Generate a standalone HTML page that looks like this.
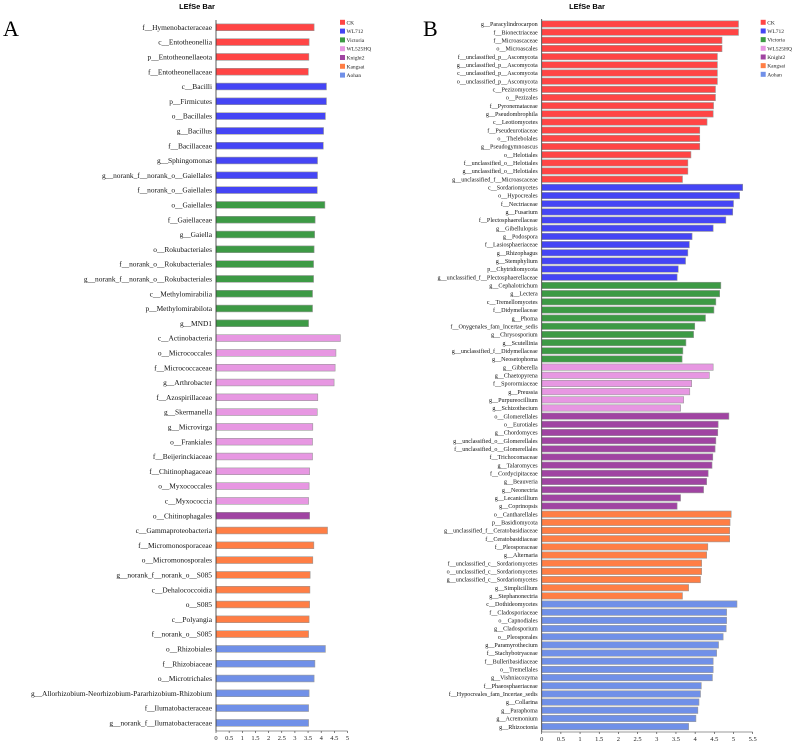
<!DOCTYPE html>
<html><head><meta charset="utf-8"><style>
html,body{margin:0;padding:0;background:#fff;}
svg{display:block;font-family:"Liberation Serif",serif;}
</style></head><body>
<svg id="c" width="798" height="746" viewBox="0 0 798 746">
<text x="197" y="9" font-family="Liberation Sans" font-weight="bold" font-size="7.5" text-anchor="middle">LEfSe Bar</text>
<text x="587" y="9" font-family="Liberation Sans" font-weight="bold" font-size="7.5" text-anchor="middle">LEfSe Bar</text>
<text x="3" y="36" font-size="22">A</text>
<text x="423" y="36" font-size="22">B</text>
</svg>
<script>
const groupNames=["CK","WL712","Victoria","WL525HQ","Knight2","Kangsai","Aohan"];
const groupColors=["#ff4545","#4545f5","#3d9a45","#e797e2","#a044a2","#ff7e45","#7090e8"];

const catsA=["f__Hymenobacteraceae","c__Entotheonellia","p__Entotheonellaeota","f__Entotheonellaceae","c__Bacilli","p__Firmicutes","o__Bacillales","g__Bacillus","f__Bacillaceae","g__Sphingomonas","g__norank_f__norank_o__Gaiellales","f__norank_o__Gaiellales","o__Gaiellales","f__Gaiellaceae","g__Gaiella","o__Rokubacteriales","f__norank_o__Rokubacteriales","g__norank_f__norank_o__Rokubacteriales","c__Methylomirabilia","p__Methylomirabilota","g__MND1","c__Actinobacteria","o__Micrococcales","f__Micrococcaceae","g__Arthrobacter","f__Azospirillaceae","g__Skermanella","g__Microvirga","o__Frankiales","f__Beijerinckiaceae","f__Chitinophagaceae","o__Myxococcales","c__Myxococcia","o__Chitinophagales","c__Gammaproteobacteria","f__Micromonosporaceae","o__Micromonosporales","g__norank_f__norank_o__S085","c__Dehalococcoidia","o__S085","c__Polyangia","f__norank_o__S085","o__Rhizobiales","f__Rhizobiaceae","o__Microtrichales","g__Allorhizobium-Neorhizobium-Pararhizobium-Rhizobium","f__Ilumatobacteraceae","g__norank_f__Ilumatobacteraceae"];
const valsA=[3.73,3.54,3.53,3.51,4.2,4.2,4.16,4.09,4.08,3.86,3.86,3.85,4.14,3.77,3.75,3.73,3.71,3.71,3.67,3.67,3.52,4.73,4.56,4.53,4.49,3.87,3.85,3.68,3.67,3.67,3.56,3.54,3.52,3.56,4.24,3.72,3.68,3.58,3.57,3.56,3.54,3.52,4.16,3.76,3.73,3.54,3.52,3.52];
const grpA=[0,0,0,0,1,1,1,1,1,1,1,1,2,2,2,2,2,2,2,2,2,3,3,3,3,3,3,3,3,3,3,3,3,4,5,5,5,5,5,5,5,5,6,6,6,6,6,6];
const ticksA=[0,0.5,1,1.5,2,2.5,3,3.5,4,4.5,5];

const catsB=["g__Paracylindrocarpon","f__Bionectriaceae","f__Microascaceae","o__Microascales","f__unclassified_p__Ascomycota","g__unclassified_p__Ascomycota","c__unclassified_p__Ascomycota","o__unclassified_p__Ascomycota","c__Pezizomycetes","o__Pezizales","f__Pyronemataceae","g__Pseudombrophila","c__Leotiomycetes","f__Pseudeurotiaceae","o__Thelebolales","g__Pseudogymnoascus","o__Helotiales","f__unclassified_o__Helotiales","g__unclassified_o__Helotiales","g__unclassified_f__Microascaceae",
"c__Sordariomycetes","o__Hypocreales","f__Nectriaceae","g__Fusarium","f__Plectosphaerellaceae","g__Gibellulopsis","g__Podospora","f__Lasiosphaeriaceae","g__Rhizophagus","g__Stemphylium","p__Chytridiomycota","g__unclassified_f__Plectosphaerellaceae",
"g__Cephalotrichum","g__Lectera","c__Tremellomycetes","f__Didymellaceae","g__Phoma","f__Onygenales_fam_Incertae_sedis","g__Chrysosporium","g__Scutellinia","g__unclassified_f__Didymellaceae","g__Neosetophoma",
"g__Gibberella","g__Chaetopyrena","f__Sporormiaceae","g__Preussia","g__Purpureocillium","g__Schizothecium",
"o__Glomerellales","o__Eurotiales","g__Chordomyces","g__unclassified_o__Glomerellales","f__unclassified_o__Glomerellales","f__Trichocomaceae","g__Talaromyces","f__Cordycipitaceae","g__Beauveria","g__Neonectria","g__Lecanicillium","g__Coprinopsis",
"o__Cantharellales","p__Basidiomycota","g__unclassified_f__Ceratobasidiaceae","f__Ceratobasidiaceae","f__Pleosporaceae","g__Alternaria","f__unclassified_c__Sordariomycetes","o__unclassified_c__Sordariomycetes","g__unclassified_c__Sordariomycetes","g__Simplicillium","g__Stephanonectria",
"c__Dothideomycetes","f__Cladosporiaceae","o__Capnodiales","g__Cladosporium","o__Pleosporales","g__Paramyrothecium","f__Stachybotryaceae","f__Bulleribasidiaceae","o__Tremellales","g__Vishniacozyma","f__Phaeosphaeriaceae","f__Hypocreales_fam_Incertae_sedis","g__Collarina","g__Paraphoma","g__Acremonium","g__Rhizoctonia"];
const valsB=[5.13,5.13,4.70,4.70,4.58,4.58,4.58,4.58,4.53,4.53,4.48,4.47,4.31,4.12,4.12,4.12,3.89,3.81,3.81,3.67,
5.24,5.16,5.0,4.98,4.80,4.47,3.92,3.85,3.81,3.75,3.56,3.53,
4.67,4.64,4.54,4.49,4.27,3.99,3.96,3.76,3.68,3.66,
4.47,4.37,3.91,3.86,3.70,3.62,
4.88,4.60,4.59,4.54,4.52,4.46,4.44,4.34,4.30,4.22,3.62,3.53,
4.94,4.91,4.90,4.90,4.33,4.30,4.17,4.17,4.14,3.83,3.67,
5.09,4.82,4.82,4.81,4.73,4.61,4.56,4.47,4.47,4.45,4.16,4.14,4.10,4.07,4.02,3.83];
const grpCountsB=[20,12,10,6,12,11,16];
const ticksB=[0,0.5,1,1.5,2,2.5,3,3.5,4,4.5,5,5.5];

const NS="http://www.w3.org/2000/svg";
const svg=document.getElementById("c");
function mk(tag,attrs,parent){const e=document.createElementNS(NS,tag);for(const k in attrs)e.setAttribute(k,attrs[k]);(parent||svg).appendChild(e);return e;}

function panel(id,cats,vals,grps,ticks,x0,unit,y0,step,barH,axTop,axBot,fs,legX,legY,legStep){
  const g=mk("g",{});
  
  
  const xs=v=>x0+v*unit, ys=i=>y0+i*step;
  cats.forEach((c,i)=>{
    const r=mk("rect",{x:x0,y:ys(i)-barH/2,width:xs(vals[i])-x0,height:barH,fill:groupColors[grps[i]],stroke:"#999","stroke-width":0.6},g);
    
    
    const t=mk("text",{x:x0-4,y:ys(i)+fs*0.35,"font-size":fs,"text-anchor":"end",fill:"#111"},g);
    t.textContent=c;
    
    
  });
  const ax=mk("line",{x1:x0,x2:x0,y1:axTop,y2:axBot,stroke:"#333","stroke-width":0.8},g);
  
  
  const xl=mk("line",{x1:x0,x2:xs(ticks[ticks.length-1]),y1:axBot,y2:axBot,stroke:"#333","stroke-width":0.6},g);
  
  
  ticks.forEach(v=>{
    mk("line",{x1:xs(v),x2:xs(v),y1:axBot,y2:axBot+2,stroke:"#333","stroke-width":0.6},g);
    const t=mk("text",{x:xs(v),y:axBot+9,"font-size":6.5,"text-anchor":"middle",fill:"#222"},g);
    t.textContent=String(v);
    
    
  });
  groupNames.forEach((n,i)=>{
    const r=mk("rect",{x:legX,y:legY+i*legStep-2.5,width:5,height:5,fill:groupColors[i]},g);
    
    
    const t=mk("text",{x:legX+6.5,y:legY+i*legStep+2,"font-size":5.5,fill:"#222"},g);
    t.textContent=n;
    
    
  });
}
const grpB=[];grpCountsB.forEach((n,gi)=>{for(let k=0;k<n;k++)grpB.push(gi);});
panel("a",catsA,valsA,grpA,ticksA,216,26.3,27.3,14.8,6.8,20,731,7.4,340,22.3,8.8);
panel("b",catsB,valsB,grpB,ticksB,541.7,38.36,24,8.17,6.4,19,732,6.1,760.7,22.3,8.67);
</script>
</body></html>
